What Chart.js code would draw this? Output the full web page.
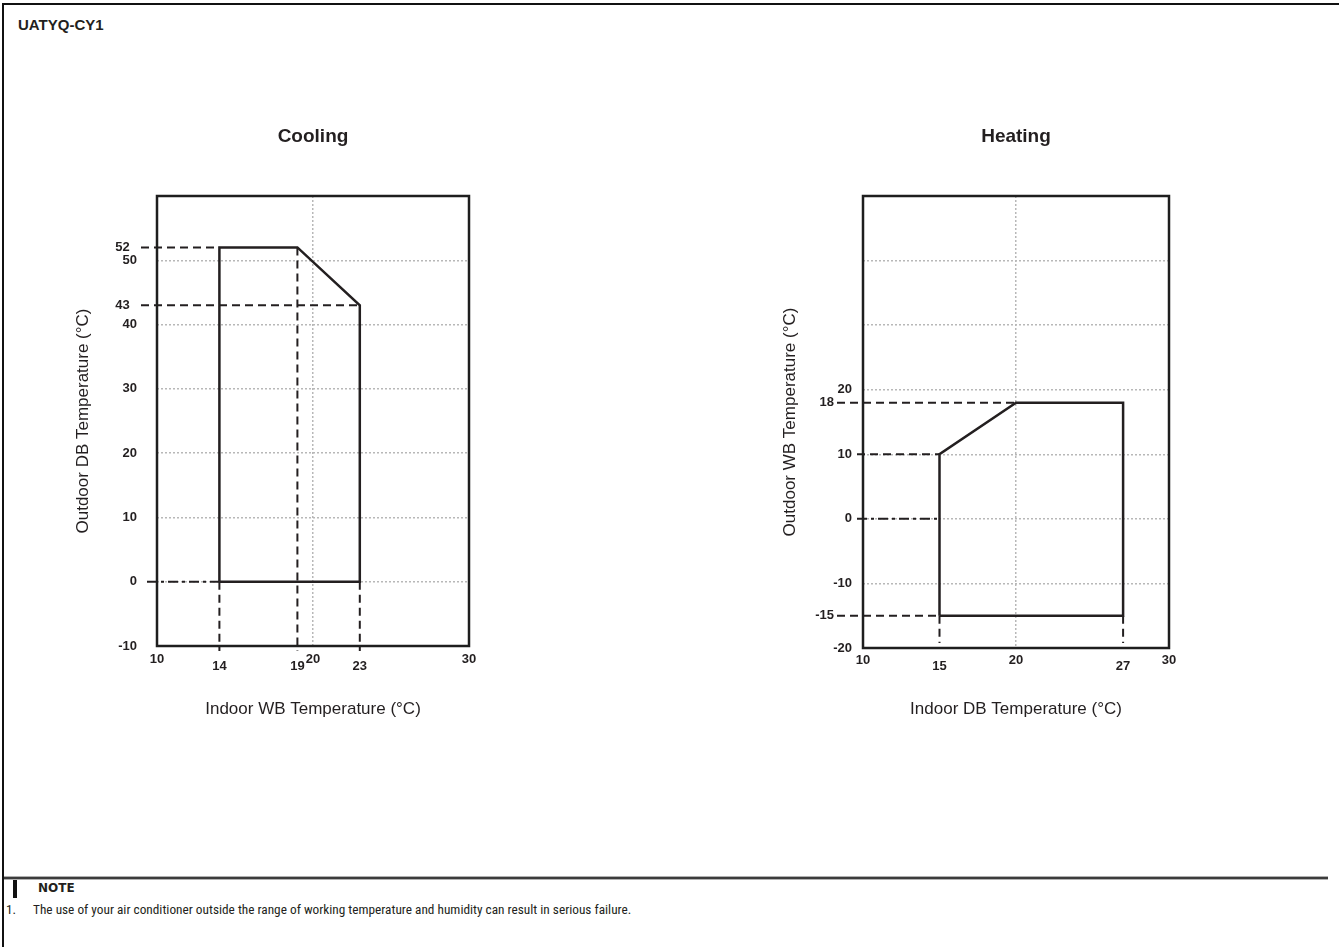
<!DOCTYPE html>
<html><head><meta charset="utf-8">
<script src="https://cdn.jsdelivr.net/npm/chart.js@4.4.1/dist/chart.umd.min.js"></script>
<style>
html,body{margin:0;padding:0;background:#fff;}
body{width:1339px;height:947px;position:relative;overflow:hidden;font-family:"Liberation Sans",Arial,sans-serif;color:#231f20;}
.frame{position:absolute;left:2px;top:3px;right:-10px;bottom:-10px;border-top:2px solid #111;border-left:2px solid #111;}
.model{position:absolute;left:18px;top:16px;font-weight:bold;font-size:15px;}
.box{position:absolute;}
.sep{position:absolute;left:4px;top:877px;width:1324px;height:2px;background:#3c3c3c;box-shadow:0 1px 0 #b0b0b0,0 -1px 0 #b0b0b0;}
.bar{position:absolute;left:13px;top:880px;width:4px;height:18px;background:#111;}
.note{position:absolute;left:38px;top:881px;font-family:"DejaVu Sans";font-weight:bold;font-size:12px;}
.num{position:absolute;left:6px;top:902px;font-size:13.3px;font-family:"Roboto Condensed","Liberation Sans",sans-serif;}
.txt{position:absolute;left:33px;top:902px;font-size:13.3px;white-space:nowrap;font-family:"Roboto Condensed","Liberation Sans",sans-serif;}
</style></head>
<body>
<div class="frame"></div>
<div class="model">UATYQ-CY1</div>
<div class="box" style="left:40px;top:100px;width:540px;height:650px;"><canvas id="cool"></canvas></div>
<div class="box" style="left:750px;top:100px;width:530px;height:650px;"><canvas id="heat"></canvas></div>
<div class="sep"></div>
<div class="bar"></div>
<div class="note">NOTE</div>
<div class="num">1.</div>
<div class="txt">The use of your air conditioner outside the range of working temperature and humidity can result in serious failure.</div>
<script>
// ---- Cooling data ----
const coolingXTicks = [10, 14, 19, 20, 23, 30];
const coolingYTicks = [52, 50, 43, 40, 30, 20, 10, 0, -10];
const coolingXGrid = [20];
const coolingYGrid = [50, 40, 30, 20, 10, 0];
const coolingEnvX = [14, 14, 19, 23, 23, 14];
const coolingEnvY = [0, 52, 52, 43, 0, 0];
const coolingHGuideY = [52, 43, 0];
const coolingHGuideToX = [14, 23, 14];
const coolingVGuideX = [14, 19, 23];
const coolingVGuideFromY = [0, 52, 0];
const coolingKeyX = [14, 19, 23];
const coolingKeyY = [52, 43];

// ---- Heating data ----
const heatingXTicks = [10, 15, 20, 27, 30];
const heatingYTicks = [40, 30, 20, 18, 10, 0, -10, -15, -20];
const heatingYLabelled = [20, 18, 10, 0, -10, -15, -20];
const heatingXGrid = [20];
const heatingYGrid = [40, 30, 20, 10, 0, -10];
const heatingEnvX = [15, 15, 20, 27, 27, 15];
const heatingEnvY = [-15, 10, 18, 18, -15, -15];
const heatingHGuideY = [18, 10, 0, -15];
const heatingHGuideToX = [20, 15, 15, 15];
const heatingVGuideX = [15, 27];
const heatingVGuideFromY = [-15, -15];
const heatingKeyX = [15, 27];
const heatingKeyY = [18, -15];

const FAM = '"Liberation Sans", Arial, sans-serif';
const INK = '#231f20';

const guidePlugin = {
  id: 'guides',
  beforeDatasetsDraw(chart, args, o) {
    const {ctx, chartArea, scales: {x, y}} = chart;
    ctx.save();
    ctx.strokeStyle = INK; ctx.lineWidth = 2;
    o.hY.forEach((v, i) => {
      ctx.setLineDash(v === 0 ? [10, 4, 3, 4] : [8, 5]);
      const py = y.getPixelForValue(v);
      const start = chartArea.left - (o.keyY.includes(v) ? o.keyLead : o.lead);
      ctx.beginPath(); ctx.moveTo(start, py); ctx.lineTo(x.getPixelForValue(o.hTo[i]), py); ctx.stroke();
    });
    ctx.setLineDash([8, 5]);
    o.vX.forEach((v, i) => {
      const px = x.getPixelForValue(v);
      ctx.beginPath(); ctx.moveTo(px, y.getPixelForValue(o.vFrom[i])); ctx.lineTo(px, chartArea.bottom + o.vOver); ctx.stroke();
    });
    ctx.restore();
  },
  afterDatasetsDraw(chart) {
    const {ctx, chartArea: a} = chart;
    ctx.save();
    ctx.lineWidth = 2.5; ctx.strokeStyle = '#1e1e1e';
    ctx.strokeRect(a.left, a.top, a.width, a.height);
    ctx.restore();
  }
};

function build(id, c) {
  return new Chart(document.getElementById(id), {
    type: 'scatter',
    data: { datasets: [{
      data: c.envX.map((x, i) => ({x, y: c.envY[i]})),
      showLine: true, pointRadius: 0, borderColor: INK, borderWidth: 2.5, fill: false, tension: 0,
      borderJoinStyle: 'miter'
    }]},
    plugins: [guidePlugin],
    options: {
      responsive: true, maintainAspectRatio: false, animation: false,
      events: [],
      layout: { padding: { left: 0, right: c.padRight, top: 0, bottom: c.padBottom } },
      plugins: {
        legend: { display: false }, tooltip: { enabled: false },
        title: { display: true, fullSize: false, text: c.title, color: INK,
          font: { family: FAM, size: 19, weight: 'bold', lineHeight: 1.2 },
          padding: { top: 25.6, bottom: 96 - 25.6 - 22.8 } },
        guides: { hY: c.hY, hTo: c.hTo, vX: c.vX, vFrom: c.vFrom, keyY: c.keyY,
          lead: c.lead, keyLead: c.keyLead, vOver: c.vOver }
      },
      scales: {
        x: {
          type: 'linear', min: c.xMin, max: c.xMax,
          afterBuildTicks: s => { s.ticks = c.xTicks.map(v => ({value: v})); },
          afterFit: s => { s.height = 80; },
          border: { display: false, dash: [2, 2] },
          grid: { drawTicks: false, lineWidth: 1.5,
            color: ctx => (ctx.tick && c.xGrid.includes(ctx.tick.value)) ? '#b8b8b8' : 'rgba(0,0,0,0)' },
          ticks: { padding: 4, color: INK, autoSkip: false, maxRotation: 0,
            callback: v => String(v),
            font: ctx => ({ family: FAM, size: 13, weight: 'bold',
              lineHeight: (ctx.tick && c.keyX.includes(ctx.tick.value)) ? c.keyDrop : c.drop }) },
          title: { display: true, text: c.xTitle, color: INK,
            font: { family: FAM, size: 17, lineHeight: 1.2 }, padding: { top: 0, bottom: c.xTitlePad } }
        },
        y: {
          type: 'linear', min: c.yMin, max: c.yMax,
          afterBuildTicks: s => { s.ticks = c.yTicks.map(v => ({value: v})); },
          afterFit: s => { s.width = c.yWidth; },
          border: { display: false, dash: [2, 2] },
          grid: { drawTicks: false, lineWidth: 1.5,
            color: ctx => (ctx.tick && c.yGrid.includes(ctx.tick.value)) ? '#b8b8b8' : 'rgba(0,0,0,0)' },
          ticks: { padding: c.yPad, color: INK, autoSkip: false,
            font: { family: FAM, size: 13, weight: 'bold' },
            callback: v => c.yLabelled.includes(v) ? (String(v) + (c.keyY.includes(v) ? c.keySpace : '')) : '' },
          title: { display: true, text: c.yTitle, color: INK,
            font: { family: FAM, size: 17, lineHeight: 1.2 }, padding: { top: c.yTitlePad, bottom: 0 } }
        }
      }
    }
  });
}

build('cool', {
  title: 'Cooling', xTitle: 'Indoor WB Temperature (°C)', yTitle: 'Outdoor DB Temperature (°C)',
  xMin: 10, xMax: 30, yMin: -10, yMax: 60,
  xTicks: coolingXTicks, yTicks: coolingYTicks, yLabelled: coolingYTicks,
  xGrid: coolingXGrid, yGrid: coolingYGrid, envX: coolingEnvX, envY: coolingEnvY,
  hY: coolingHGuideY, hTo: coolingHGuideToX, vX: coolingVGuideX, vFrom: coolingVGuideFromY,
  keyX: coolingKeyX, keyY: coolingKeyY, keySpace: '  ',
  lead: 10, keyLead: 16, vOver: 5,
  padRight: 111, padBottom: 24, yWidth: 117, yPad: 20, yTitlePad: 32.8, xTitlePad: 6.8,
  drop: '18px', keyDrop: '32px'
});
build('heat', {
  title: 'Heating', xTitle: 'Indoor DB Temperature (°C)', yTitle: 'Outdoor WB Temperature (°C)',
  xMin: 10, xMax: 30, yMin: -20, yMax: 50,
  xTicks: heatingXTicks, yTicks: heatingYTicks, yLabelled: heatingYLabelled,
  xGrid: heatingXGrid, yGrid: heatingYGrid, envX: heatingEnvX, envY: heatingEnvY,
  hY: heatingHGuideY, hTo: heatingHGuideToX, vX: heatingVGuideX, vFrom: heatingVGuideFromY,
  keyX: heatingKeyX, keyY: heatingKeyY, keySpace: '     ',
  lead: 6, keyLead: 26, vOver: -5,
  padRight: 111, padBottom: 22, yWidth: 113, yPad: 11, yTitlePad: 29.8, xTitlePad: 8.8,
  drop: '16px', keyDrop: '28px'
});
</script>
</body></html>
